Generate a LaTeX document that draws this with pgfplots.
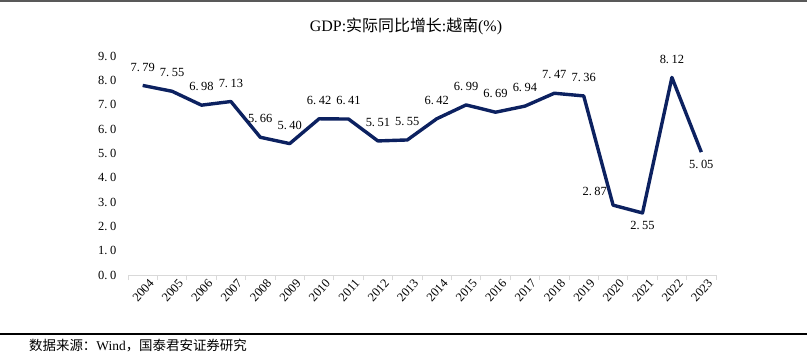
\documentclass[border=0pt]{standalone}
\usepackage{pgfplots}
\pgfplotsset{compat=1.18}
\usepackage{pgfplotstable}
\usepackage{fontspec}
\setmainfont{Liberation Serif}
\newfontfamily\cjk{Noto Sans CJK SC}
\definecolor{navy}{RGB}{12,33,96}
\definecolor{axgray}{RGB}{217,217,217}
\newcommand\dg{\hspace{0.2em}}
\pgfplotstableread{
x y
0 7.79
1 7.55
2 6.98
3 7.13
4 5.66
5 5.40
6 6.42
7 6.41
8 5.51
9 5.55
10 6.42
11 6.99
12 6.69
13 6.94
14 7.47
15 7.36
16 2.87
17 2.55
18 8.12
19 5.05
}\gdp
\pgfplotstableread{
x y lab
0 7.79 7.\dg79
1 7.55 7.\dg55
2 6.98 6.\dg98
3 7.13 7.\dg13
4 5.66 5.\dg66
5 5.40 5.\dg40
6 6.42 6.\dg42
7 6.41 6.\dg41
8 5.51 5.\dg51
9 5.55 5.\dg55
10 6.42 6.\dg42
11 6.99 6.\dg99
12 6.69 6.\dg69
13 6.94 6.\dg94
14 7.47 7.\dg47
15 7.36 7.\dg36
18 8.12 8.\dg12
}\abovelab
\pgfplotstableread{
x y lab
17 2.55 2.\dg55
19 5.05 5.\dg05
}\belowlab
\pgfplotstableread{
x y lab
16 2.87 2.\dg87
}\leftlab
\begin{document}
\begin{tikzpicture}[x=1bp,y=1bp]
\path[use as bounding box] (0,0) rectangle (807,356);
\draw[line width=2.2bp, black!65] (0,355) -- (807,355);
\node[font=\fontsize{16}{18}\selectfont] at (406,330) {GDP:{\cjk 实际同比增长}:{\cjk 越南}(\%)};
\begin{axis}[
  at={(128bp,81bp)}, anchor=south west,
  scale only axis, width=588bp, height=219bp,
  xmin=-0.5, xmax=19.5, ymin=0, ymax=9,
  axis x line=bottom, axis y line=left,
  x axis line style={draw=axgray, line width=1bp, -},
  y axis line style={draw=none},
  xtick={0,...,19},
  xticklabels={2004,2005,2006,2007,2008,2009,2010,2011,2012,2013,2014,2015,2016,2017,2018,2019,2020,2021,2022,2023},
  major x tick style={draw=none},
  minor xtick={-0.5,0.5,...,19.5},
  minor x tick style={draw=axgray, line width=1bp},
  minor tick length=5bp,
  tick align=outside,
  xticklabel style={rotate=48, anchor=north east, inner sep=0.5bp, font=\fontsize{12.5}{13}\selectfont, xshift=5bp, yshift=-3bp},
  ytick={0,1,...,9},
  yticklabels={0.\dg0,1.\dg0,2.\dg0,3.\dg0,4.\dg0,5.\dg0,6.\dg0,7.\dg0,8.\dg0,9.\dg0},
  ytick style={draw=none},
  yticklabel style={font=\fontsize{12.5}{14}\selectfont, xshift=-4bp},
  clip=false,
]
\addplot[navy, line width=3.4bp, line join=round] table[x=x,y=y] {\gdp};
\addplot[only marks, mark=none, nodes near coords, point meta=explicit symbolic,
  every node near coord/.style={anchor=south, font=\fontsize{12.5}{14}\selectfont, inner sep=1bp, yshift=13bp}]
  table[x=x,y=y,meta=lab] {\abovelab};
\addplot[only marks, mark=none, nodes near coords, point meta=explicit symbolic,
  every node near coord/.style={anchor=north, font=\fontsize{12.5}{14}\selectfont, inner sep=1bp, yshift=-7bp}]
  table[x=x,y=y,meta=lab] {\belowlab};
\addplot[only marks, mark=none, nodes near coords, point meta=explicit symbolic,
  every node near coord/.style={anchor=south east, font=\fontsize{12.5}{14}\selectfont, inner sep=1bp, xshift=-5bp, yshift=8bp}]
  table[x=x,y=y,meta=lab] {\leftlab};
\end{axis}
\draw[line width=1.5bp, black] (0,22) -- (807,22);
\node[anchor=west, font=\fontsize{13.5}{15}\selectfont, inner sep=0] at (29,10) {{\cjk 数据来源：}Wind{\cjk ，国泰君安证券研究}};
\end{tikzpicture}
\end{document}
